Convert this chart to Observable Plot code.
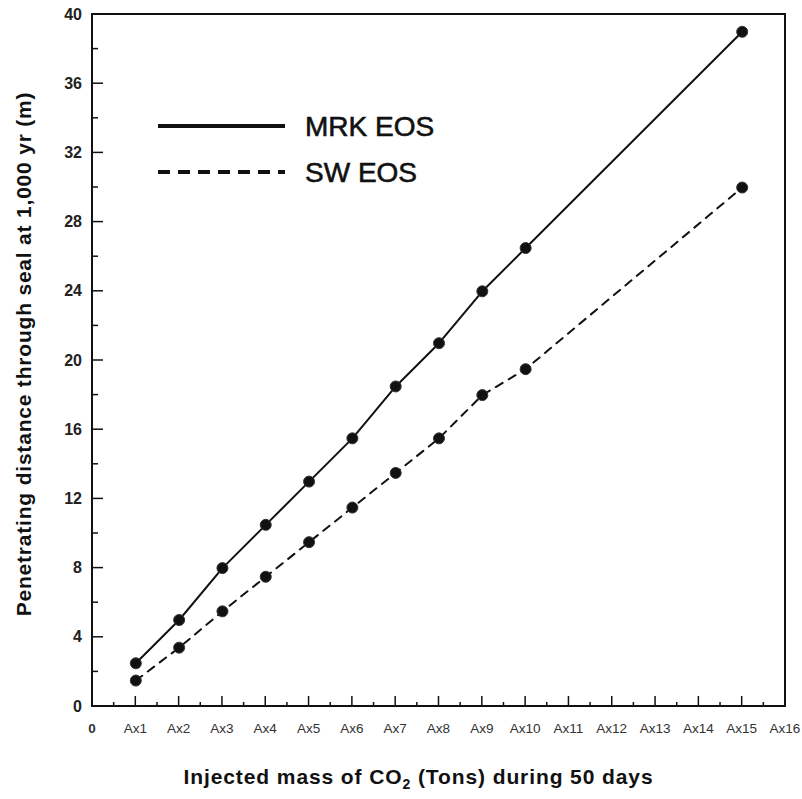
<!DOCTYPE html>
<html>
<head>
<meta charset="utf-8">
<script src="https://cdn.jsdelivr.net/npm/d3@7"></script>
<script src="https://cdn.jsdelivr.net/npm/@observablehq/plot@0.6"></script>
<style>
  html, body { margin: 0; padding: 0; background: #fff; }
  #chart { width: 802px; height: 799px; }
  svg { display: block; }
</style>
</head>
<body>
<div id="chart"></div>
<script>
// ---- Data ----
const xPositions = [1, 2, 3, 4, 5, 6, 7, 8, 9, 10, 15];
const categories = ["Ax1", "Ax2", "Ax3", "Ax4", "Ax5", "Ax6", "Ax7", "Ax8", "Ax9", "Ax10", "Ax15"];
const mrkValues = [2.5, 5, 8, 10.5, 13, 15.5, 18.5, 21, 24, 26.5, 39];
const swValues = [1.5, 3.4, 5.5, 7.5, 9.5, 11.5, 13.5, 15.5, 18, 19.5, 30];
const xTickLabels = ["0", "Ax1", "Ax2", "Ax3", "Ax4", "Ax5", "Ax6", "Ax7", "Ax8", "Ax9", "Ax10", "Ax11", "Ax12", "Ax13", "Ax14", "Ax15", "Ax16"];
const yTickValues = [0, 4, 8, 12, 16, 20, 24, 28, 32, 36, 40];
const seriesNames = ["MRK EOS", "SW EOS"];

const mrk = xPositions.map((x, i) => ({x, y: mrkValues[i], cat: categories[i]}));
const sw = xPositions.map((x, i) => ({x, y: swValues[i], cat: categories[i]}));

const W = 802, H = 799;
const font = "'Liberation Sans', Arial, sans-serif";

// custom axes / frame / legend drawn using scales
function decorations(index, scales, values, dims) {
  const {x, y} = scales;
  const {marginLeft: ml, marginTop: mt, width, height, marginRight: mr, marginBottom: mb} = dims;
  const left = ml, right = width - mr, top = mt, bottom = height - mb;
  const g = d3.create("svg:g").attr("text-anchor", "start");
  // y ticks (inward)
  for (let v = 0; v <= 40; v += 2) {
    const major = v % 4 === 0;
    g.append("line").attr("x1", left).attr("x2", left + (major ? 11 : 6))
      .attr("y1", y(v)).attr("y2", y(v)).attr("stroke", "#111").attr("stroke-width", 1.5);
  }
  // y tick labels
  for (const v of yTickValues) {
    g.append("text").attr("x", left - 10).attr("y", y(v)).attr("dy", "0.35em")
      .attr("text-anchor", "end").attr("font-family", font).attr("font-size", 16)
      .attr("font-weight", "bold").attr("fill", "#222").text(v);
  }
  // x ticks (inward)
  for (let k = 0; k <= 32; k++) {
    const v = k / 2;
    const major = k % 2 === 0;
    g.append("line").attr("x1", x(v)).attr("x2", x(v))
      .attr("y1", bottom).attr("y2", bottom - (major ? 10 : 4)).attr("stroke", "#111").attr("stroke-width", 1.5);
  }
  xTickLabels.forEach((lab, i) => {
    g.append("text").attr("x", x(i)).attr("y", bottom + 22).attr("dy", "0.35em")
      .attr("text-anchor", "middle").attr("font-family", font).attr("font-size", 13.5)
      .attr("fill", "#333").attr("font-weight", i === 0 ? "bold" : "normal").text(lab);
  });
  // frame
  g.append("rect").attr("x", left).attr("y", top).attr("width", right - left).attr("height", bottom - top)
    .attr("fill", "none").attr("stroke", "#111").attr("stroke-width", 2);
  // x title with subscript
  const xt = g.append("text").attr("x", (left + right) / 2 - 20).attr("y", 784)
    .attr("text-anchor", "middle").attr("font-family", font).attr("font-size", 21)
    .attr("letter-spacing", 0.9).attr("font-weight", "bold").attr("fill", "#111");
  xt.append("tspan").text("Injected mass of CO");
  xt.append("tspan").attr("font-size", 14).attr("dy", 5).text("2");
  xt.append("tspan").attr("dy", -5).text(" (Tons) during 50 days");
  // y title
  g.append("text").attr("transform", `translate(31,${(top + bottom) / 2 - 6}) rotate(-90)`)
    .attr("text-anchor", "middle").attr("font-family", font).attr("font-size", 21)
    .attr("letter-spacing", 0.8).attr("font-weight", "bold").attr("fill", "#111")
    .text("Penetrating distance through seal at 1,000 yr (m)");
  // legend
  const legX = left + 66, legY0 = top + 112, legGap = 46;
  seriesNames.forEach((name, i) => {
    const ly = legY0 + i * legGap;
    g.append("line").attr("x1", legX).attr("x2", legX + 127).attr("y1", ly).attr("y2", ly)
      .attr("stroke", "#111").attr("stroke-width", 4)
      .attr("stroke-dasharray", i === 1 ? "12,8" : null);
    g.append("text").attr("x", legX + 147).attr("y", ly).attr("dy", "0.35em")
      .attr("text-anchor", "start")
      .attr("font-family", font).attr("font-size", 28).attr("fill", "#111")
      .attr("stroke", "#111").attr("stroke-width", 0.6).text(name);
  });
  return g.node();
}

const chart = Plot.plot({
  width: W,
  height: H,
  marginLeft: 92,
  marginRight: 17,
  marginTop: 14,
  marginBottom: 93,
  x: {domain: [0, 16], axis: null},
  y: {domain: [0, 40], axis: null},
  style: {background: "#fff", fontFamily: font},
  marks: [
    Plot.line(mrk, {x: "x", y: "y", stroke: "#111", strokeWidth: 2}),
    Plot.line(sw, {x: "x", y: "y", stroke: "#111", strokeWidth: 2, strokeDasharray: "8,7"}),
    Plot.dot(mrk, {x: "x", y: "y", r: 5.5, fill: "#111", stroke: "#333", strokeWidth: 1}),
    Plot.dot(sw, {x: "x", y: "y", r: 5.5, fill: "#111", stroke: "#333", strokeWidth: 1}),
    decorations
  ]
});
document.getElementById("chart").appendChild(chart);
</script>
</body>
</html>
